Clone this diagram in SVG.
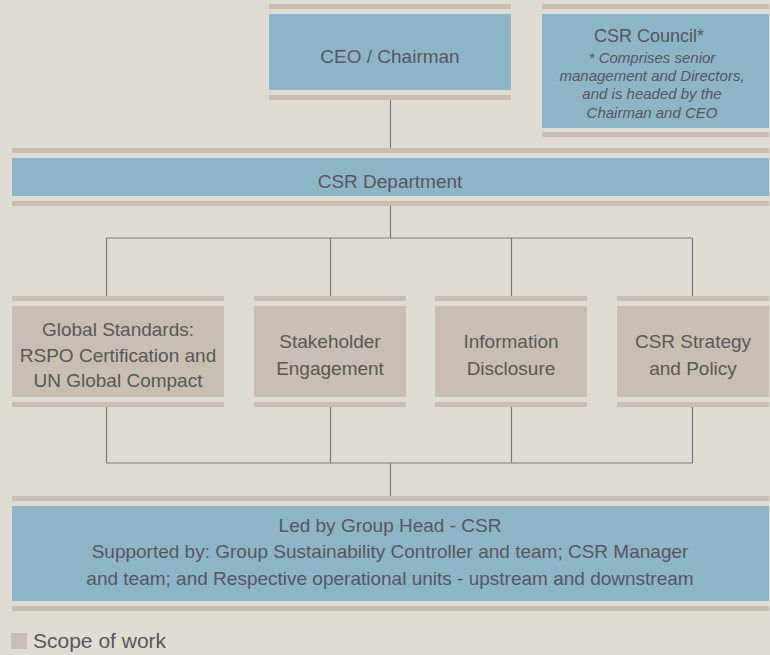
<svg xmlns="http://www.w3.org/2000/svg" width="770" height="655" viewBox="0 0 770 655">
<style>
.bg{fill:#dfdcd4}
.bar{fill:#c9bdb1}
.blue{fill:#8cb5c8}
.tan{fill:#c8beb2}
.t{font-family:"Liberation Sans",Arial,sans-serif;font-size:19px;fill:#56585a;text-anchor:middle}
.h{font-family:"Liberation Sans",Arial,sans-serif;font-size:18px;fill:#56585a;text-anchor:middle}
.i{font-family:"Liberation Sans",Arial,sans-serif;font-size:15px;font-style:italic;fill:#56585a;text-anchor:middle}
.lg{font-family:"Liberation Sans",Arial,sans-serif;font-size:21px;fill:#56585a}
.c{stroke:#7a7a7a;stroke-width:1.2;fill:none}
</style>
<rect class="bg" x="0" y="0" width="770" height="655"/>
<g id="connectors">
<path class="c" d="M390.5 100V148M390.5 206V238M106.5 238H692.5M106.5 238V296M330.5 238V296M511.5 238V296M692.5 238V296M106.5 407V463M330.5 407V463M511.5 407V463M692.5 407V463M106.5 463H692.5M390.5 463V496"/>
</g>
<g id="ceo">
<rect class="bar" x="269" y="4" width="242" height="5"/>
<rect class="blue" x="269" y="14" width="242" height="76"/>
<rect class="bar" x="269" y="95" width="242" height="5"/>
<text class="t" x="390" y="63">CEO / Chairman</text>
</g>
<g id="council">
<rect class="bar" x="542" y="4" width="227" height="5"/>
<rect class="blue" x="542" y="14" width="227" height="114"/>
<rect class="bar" x="542" y="132" width="227" height="5"/>
<text class="h" x="649" y="42">CSR Council*</text>
<text class="i" x="652" y="63">* Comprises senior</text>
<text class="i" x="652" y="81">management and Directors,</text>
<text class="i" x="652" y="99">and is headed by the</text>
<text class="i" x="652" y="118">Chairman and CEO</text>
</g>
<g id="dept">
<rect class="bar" x="12" y="148" width="757" height="5"/>
<rect class="blue" x="12" y="158" width="757" height="38"/>
<rect class="bar" x="12" y="201" width="757" height="5"/>
<text class="t" x="390" y="188">CSR Department</text>
</g>
<g id="global">
<rect class="bar" x="12" y="296" width="212" height="5"/>
<rect class="tan" x="12" y="306" width="212" height="91"/>
<rect class="bar" x="12" y="402" width="212" height="5"/>
<text class="t" x="118" y="336">Global Standards:</text>
<text class="t" x="118" y="362">RSPO Certification and</text>
<text class="t" x="118" y="387">UN Global Compact</text>
</g>
<g id="stakeholder">
<rect class="bar" x="254" y="296" width="152" height="5"/>
<rect class="tan" x="254" y="306" width="152" height="91"/>
<rect class="bar" x="254" y="402" width="152" height="5"/>
<text class="t" x="330" y="348">Stakeholder</text>
<text class="t" x="330" y="375">Engagement</text>
</g>
<g id="disclosure">
<rect class="bar" x="435" y="296" width="152" height="5"/>
<rect class="tan" x="435" y="306" width="152" height="91"/>
<rect class="bar" x="435" y="402" width="152" height="5"/>
<text class="t" x="511" y="348">Information</text>
<text class="t" x="511" y="375">Disclosure</text>
</g>
<g id="strategy">
<rect class="bar" x="617" y="296" width="152" height="5"/>
<rect class="tan" x="617" y="306" width="152" height="91"/>
<rect class="bar" x="617" y="402" width="152" height="5"/>
<text class="t" x="693" y="348">CSR Strategy</text>
<text class="t" x="693" y="375">and Policy</text>
</g>
<g id="lead">
<rect class="bar" x="12" y="496" width="757" height="5"/>
<rect class="blue" x="12" y="506" width="757" height="95"/>
<rect class="bar" x="12" y="606" width="757" height="5"/>
<text class="t" x="390" y="532">Led by Group Head - CSR</text>
<text class="t" x="390" y="558">Supported by: Group Sustainability Controller and team; CSR Manager</text>
<text class="t" x="390" y="585">and team; and Respective operational units - upstream and downstream</text>
</g>
<g id="legend">
<rect class="tan" x="11" y="633" width="16" height="16"/>
<text class="lg" x="33" y="648">Scope of work</text>
</g>
</svg>
